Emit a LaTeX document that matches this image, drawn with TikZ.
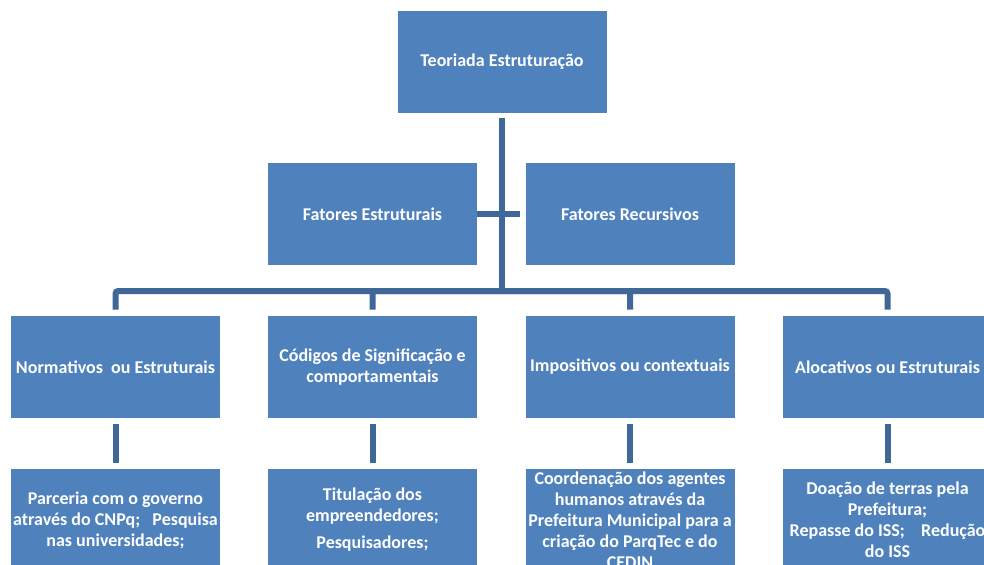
\documentclass[tikz,border=0pt]{standalone}
\usepackage{fontspec}
\setmainfont{Carlito}
\usepackage{xcolor}
\usepackage{tikz}
\usetikzlibrary{positioning}
\definecolor{boxBlue}{HTML}{4F81BD}
\definecolor{lineBlue}{HTML}{3F6797}
\tikzset{
  box/.style={
    rectangle, fill=boxBlue, draw=none,
    minimum width=156.75pt, minimum height=76.5pt,
    inner sep=0pt
  },
  txt/.style={
    text=white, align=center, inner sep=0pt,
    font=\fontsize{13.5}{15.75}\selectfont\bfseries
  },
  link/.style={draw=lineBlue, line width=4.5pt}
}

\begin{document}
\begin{tikzpicture}[x=0.75pt,y=-0.75pt]
  \useasboundingbox (0,0) rectangle (984,564);
  \clip (0,0) rectangle (984,564);

  % top of the tree
  \node[box] (teoria) at (502,61.5) {};
  \node[txt] (teoria-t) at (teoria) {Teoriada Estruturação};

  % factors
  \node[box] (fest) at (372.5,214) {};
  \node[txt] (fest-t) at (fest) {Fatores Estruturais};
  \node[box] (frec) at (630,214) {};
  \node[txt] (frec-t) at (frec) {Fatores Recursivos};

  % dimensions
  \node[box] (norm) at (115.5,367) {};
  \node[txt] (norm-t) at (norm) {Normativos\ \ ou Estruturais};
  \node[box] (cod) at (372.5,367) {};
  \node[txt] (cod-t) at (cod) {Códigos de Significação e\\comportamentais};
  \node[box] (imp) at (630,367) {};
  \node[txt] (imp-t) at (imp) {Impositivos ou contextuais};
  \node[box] (aloc) at (887.5,367) {};
  \node[txt] (aloc-t) at (aloc) {Alocativos ou Estruturais};

  % examples
  \node[box] (parc) at (115.5,520) {};
  \node[txt] (parc-t) at (parc) {Parceria com o governo\\através do CNPq;\ \ \ Pesquisa\\nas universidades;};
  \node[box] (tit) at (372.5,520) {};
  \node[txt] (tit-t) at (tit) {Titulação dos\\empreendedores;\\[4.5pt]Pesquisadores;};
  \node[box] (coord) at (630,520) {};
  \node[txt] (coord-t) at (coord) {Coordenação dos agentes\\humanos através da\\Prefeitura Municipal para a\\criação do ParqTec e do\\CEDIN};
  \node[box] (doac) at (887.5,520) {};
  \node[txt] (doac-t) at (doac) {Doação de terras pela\\Prefeitura;\\Repasse do ISS;\ \ \ \ Redução\\do ISS};

  % connectors
  \coordinate (bus) at (502,291);
  \draw[link, shorten <=3.75pt] (teoria) -- (teoria |- bus);
  \foreach \c in {norm,cod,imp,aloc}
    \draw[link, rounded corners=2pt, shorten >=4.5pt] (bus) -| (\c.north);
  \foreach \a/\b in {norm/parc,cod/tit,imp/coord,aloc/doac}
    \draw[link, shorten <=4.5pt, shorten >=4.5pt] (\a) -- (\b);
  \draw[link, line width=4pt, shorten >=3.75pt] (fest) -- (frec);
\end{tikzpicture}
\end{document}
